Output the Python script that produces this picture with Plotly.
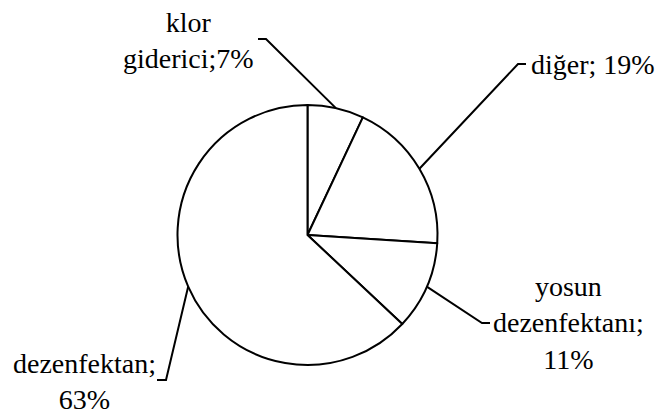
import numpy as np
import plotly.graph_objects as go

# slice data (clockwise from 12 o'clock)
labels = ["klor giderici", "diğer", "yosun dezenfektanı", "dezenfektan"]
values = [7, 19, 11, 63]
label_texts = ["klor<br>giderici;7%", "diğer; 19%", "yosun<br>dezenfektanı;<br>11%", "dezenfektan;<br>63%"]

W, H = 655, 414
cx, cy, R = 307.5, 235, 130

# label placement: text anchor, elbow point, end of short horizontal tick
label_pos = [(188, 40, "center"), (529, 64, "left"), (568, 323, "center"), (84, 381, "center")]
elbows = [(266, 39), (518, 64), (482, 323), (166, 380)]
tick_ends = [258, 526, 490, 157]

fig = go.Figure()
fig.add_trace(go.Pie(
    labels=labels, values=values, sort=False, direction="clockwise", rotation=0,
    textinfo="none", hoverinfo="label+percent", showlegend=False,
    marker=dict(colors=["white"] * 4, line=dict(color="black", width=2)),
    domain=dict(x=[(cx - R) / W, (cx + R) / W], y=[1 - (cy + R) / H, 1 - (cy - R) / H]),
))

# leader lines start at the middle of each slice on the rim
total = sum(values)
cum = np.cumsum([0] + values)
shapes = []
for i, v in enumerate(values):
    ang = np.deg2rad((cum[i] + v / 2) / total * 360)
    x0, y0 = cx + R * np.sin(ang), cy - R * np.cos(ang)
    ex, ey = elbows[i]
    shapes.append(dict(type="path", xref="x", yref="y",
                       path=f"M {x0:.1f} {y0:.1f} L {ex} {ey} L {tick_ends[i]} {ey}",
                       line=dict(color="black", width=2)))

annotations = []
for txt, (x, y, anchor) in zip(label_texts, label_pos):
    annotations.append(dict(x=x, y=y, xref="x", yref="y", text=txt, showarrow=False,
                            xanchor=anchor, yanchor="middle", align="center",
                            font=dict(family="Liberation Serif, Times New Roman, serif",
                                      size=28, color="black")))

fig.update_layout(
    width=W, height=H, autosize=False,
    margin=dict(l=0, r=0, t=0, b=0),
    paper_bgcolor="white", plot_bgcolor="white",
    xaxis=dict(range=[0, W], visible=False, fixedrange=True),
    yaxis=dict(range=[H, 0], visible=False, fixedrange=True),
    shapes=shapes, annotations=annotations,
)

fig.write_html("out.html", config={"displayModeBar": False},
               post_script="document.body.style.margin='0';")
